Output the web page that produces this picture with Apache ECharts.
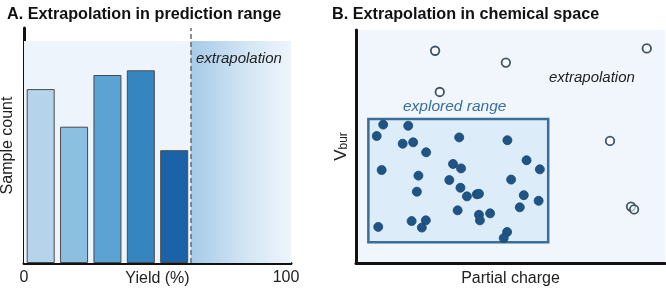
<!DOCTYPE html>
<html>
<head>
<meta charset="utf-8">
<script src="https://cdn.jsdelivr.net/npm/echarts@6/dist/echarts.min.js"></script>
<style>
html,body{margin:0;padding:0;background:#fff;}
#c{width:666px;height:288px;}
</style>
</head>
<body>
<div id="c"></div>
<script>
// ---------- Panel A data ----------
const yieldBinCenters = [6.25, 18.75, 31.25, 43.75, 56.25];
const sampleCounts = [74, 58, 80, 82, 48];
const barColors = ['#b5d3ea', '#8cc0e0', '#5ba3d2', '#3585c0', '#1b63a8'];
const extrapolationThreshold = 62.5;
const yieldTicks = [0, 100];
const panelATop = 94.5;

// ---------- Panel B data ----------
const exploredCharge = [0.88,1.69,0.67,1.51,1.85,3.34,4.90,2.27,0.83,3.14,3.40,5.52,5.95,2.02,3.02,5.02,1.97,3.38,3.59,3.91,3.98,5.43,5.91,5.30,3.29,3.98,4.34,4.01,1.80,2.26,2.13,0.72,4.89,4.78];
const exploredVbur   = [5.94,5.89,5.45,5.12,5.18,5.39,5.27,4.75,3.99,4.25,4.06,4.41,4.02,3.75,3.56,3.58,3.06,3.23,2.86,2.95,2.97,2.91,2.67,2.39,2.26,2.07,2.13,1.83,1.80,1.83,1.52,1.55,1.33,1.07];
const novelCharge = [2.56, 4.85, 9.41, 2.71, 8.22, 8.90, 9.00];
const novelVbur   = [9.11, 8.60, 9.21, 7.34, 5.24, 2.42, 2.30];
const exploredBox = {chargeMin: 0.40, chargeMax: 6.22, vburMin: 0.89, vburMax: 6.18};

const FONT = '"Liberation Sans", Arial, Helvetica, sans-serif';

const chart = echarts.init(document.getElementById('c'), null, {renderer: 'canvas'});

const axisLineStyle = {color: '#111', width: 3};

chart.setOption({
  animation: false,
  backgroundColor: '#ffffff',
  textStyle: {fontFamily: FONT},
  title: [
    {text: 'A. Extrapolation in prediction range', left: 2, top: 2,
     textStyle: {fontFamily: FONT, fontSize: 16.2, fontWeight: 'bold', color: '#111'}},
    {text: 'B. Extrapolation in chemical space', left: 327, top: 2,
     textStyle: {fontFamily: FONT, fontSize: 16.2, fontWeight: 'bold', color: '#111'}}
  ],
  grid: [
    {left: 24, right: 375, top: 28, bottom: 25, outerBoundsMode: 'none', containLabel: false},
    {left: 356, right: 1, top: 30, bottom: 25, show: true, backgroundColor: '#f1f6fc', borderWidth: 0,
     outerBoundsMode: 'none', containLabel: false}
  ],
  xAxis: [
    {gridIndex: 0, type: 'value', min: 0, max: 100, interval: 100,
     name: 'Yield (%)', nameLocation: 'middle', nameGap: 8, nameMoveOverlap: false,
     nameTextStyle: {fontSize: 16, color: '#222', fontFamily: FONT, verticalAlign: 'top'},
     axisLine: {show: true, lineStyle: axisLineStyle},
     axisTick: {show: false}, splitLine: {show: false},
     axisLabel: {show: true, margin: 7, fontSize: 16, color: '#222', fontFamily: FONT,
       formatter: v => (yieldTicks.indexOf(v) >= 0 ? (v === 100 ? '{m|100}' : String(v)) : ''),
       rich: {m: {fontSize: 16, color: '#222', fontFamily: FONT, padding: [0, 10, 0, 0]}}}},
    {gridIndex: 1, type: 'value', min: 0, max: 10,
     name: 'Partial charge', nameLocation: 'middle', nameGap: 8, nameMoveOverlap: false,
     nameTextStyle: {fontSize: 16, color: '#222', fontFamily: FONT, verticalAlign: 'top'},
     axisLine: {show: true, lineStyle: axisLineStyle},
     axisTick: {show: false}, splitLine: {show: false}, axisLabel: {show: false}}
  ],
  yAxis: [
    {gridIndex: 0, type: 'value', min: 0, max: 100,
     name: 'Sample count', nameLocation: 'middle', nameGap: 8, nameRotate: 90, nameMoveOverlap: false,
     nameTextStyle: {fontSize: 16, color: '#222', fontFamily: FONT},
     axisLine: {show: true, lineStyle: axisLineStyle},
     axisTick: {show: false}, splitLine: {show: false}, axisLabel: {show: false}},
    {gridIndex: 1, type: 'value', min: 0, max: 10,
     name: '{v|V}{s|bur}', nameLocation: 'middle', nameGap: 6, nameRotate: 90, nameMoveOverlap: false,
     nameTextStyle: {fontFamily: FONT, rich: {
       v: {fontSize: 17, color: '#222', fontFamily: FONT},
       s: {fontSize: 12, color: '#222', fontFamily: FONT, verticalAlign: 'bottom', padding: [6, 0, 0, 0]}}},
     axisLine: {show: true, lineStyle: axisLineStyle},
     axisTick: {show: false}, splitLine: {show: false}, axisLabel: {show: false}}
  ],
  series: [
    // Panel A backgrounds + threshold
    {type: 'line', xAxisIndex: 0, yAxisIndex: 0, data: [], z: 1, silent: true,
     markArea: {silent: true, data: [
       [{xAxis: 0, yAxis: 0, itemStyle: {color: '#eef4fb'}}, {xAxis: extrapolationThreshold, yAxis: panelATop}],
       [{xAxis: extrapolationThreshold, yAxis: 0, itemStyle: {color: new echarts.graphic.LinearGradient(0, 0, 1, 0, [
          {offset: 0, color: '#a6cae8'}, {offset: 0.55, color: '#d3e5f4'}, {offset: 1, color: '#eef5fb'}])}},
        {xAxis: 100, yAxis: panelATop}]
     ]}},
    {type: 'bar', xAxisIndex: 0, yAxisIndex: 0, z: 2, barWidth: 28,
     data: yieldBinCenters.map((x, i) => ({value: [x, sampleCounts[i]], itemStyle: {color: barColors[i]}})),
     itemStyle: {borderColor: '#4a4a4a', borderWidth: 1},
     markLine: {silent: true, symbol: 'none', label: {show: false},
       lineStyle: {color: '#6a6a6a', type: [5, 3], width: 1.5},
       data: [{xAxis: extrapolationThreshold}]}},
    // Panel B explored box
    {type: 'line', xAxisIndex: 1, yAxisIndex: 1, data: [], z: 1, silent: true,
     markArea: {silent: true, data: [
       [{xAxis: exploredBox.chargeMin, yAxis: exploredBox.vburMin,
         itemStyle: {color: '#dcecf8', borderColor: '#3b6d96', borderWidth: 2.5}},
        {xAxis: exploredBox.chargeMax, yAxis: exploredBox.vburMax}]
     ]}},
    {type: 'scatter', xAxisIndex: 1, yAxisIndex: 1, z: 3, symbolSize: 9,
     data: exploredCharge.map((x, i) => [x, exploredVbur[i]]),
     itemStyle: {color: '#1f5586', borderColor: '#1a4672', borderWidth: 0.8, opacity: 1}},
    {type: 'scatter', xAxisIndex: 1, yAxisIndex: 1, z: 3, symbolSize: 8.5,
     data: novelCharge.map((x, i) => [x, novelVbur[i]]),
     itemStyle: {color: 'rgba(255,255,255,0.6)', borderColor: '#3e5566', borderWidth: 1.8, opacity: 1}}
  ],
  graphic: [
    {type: 'text', left: 196, top: 51, z: 10,
     style: {text: 'extrapolation', fontFamily: FONT, fontSize: 15, fontStyle: 'italic', fill: '#222'}},
    {type: 'text', left: 549, top: 70, z: 10,
     style: {text: 'extrapolation', fontFamily: FONT, fontSize: 15, fontStyle: 'italic', fill: '#222'}},
    {type: 'text', left: 403, top: 99, z: 10,
     style: {text: 'explored range', fontFamily: FONT, fontSize: 15.5, fontStyle: 'italic', fill: '#3a6f9c'}}
  ]
});
</script>
</body>
</html>
